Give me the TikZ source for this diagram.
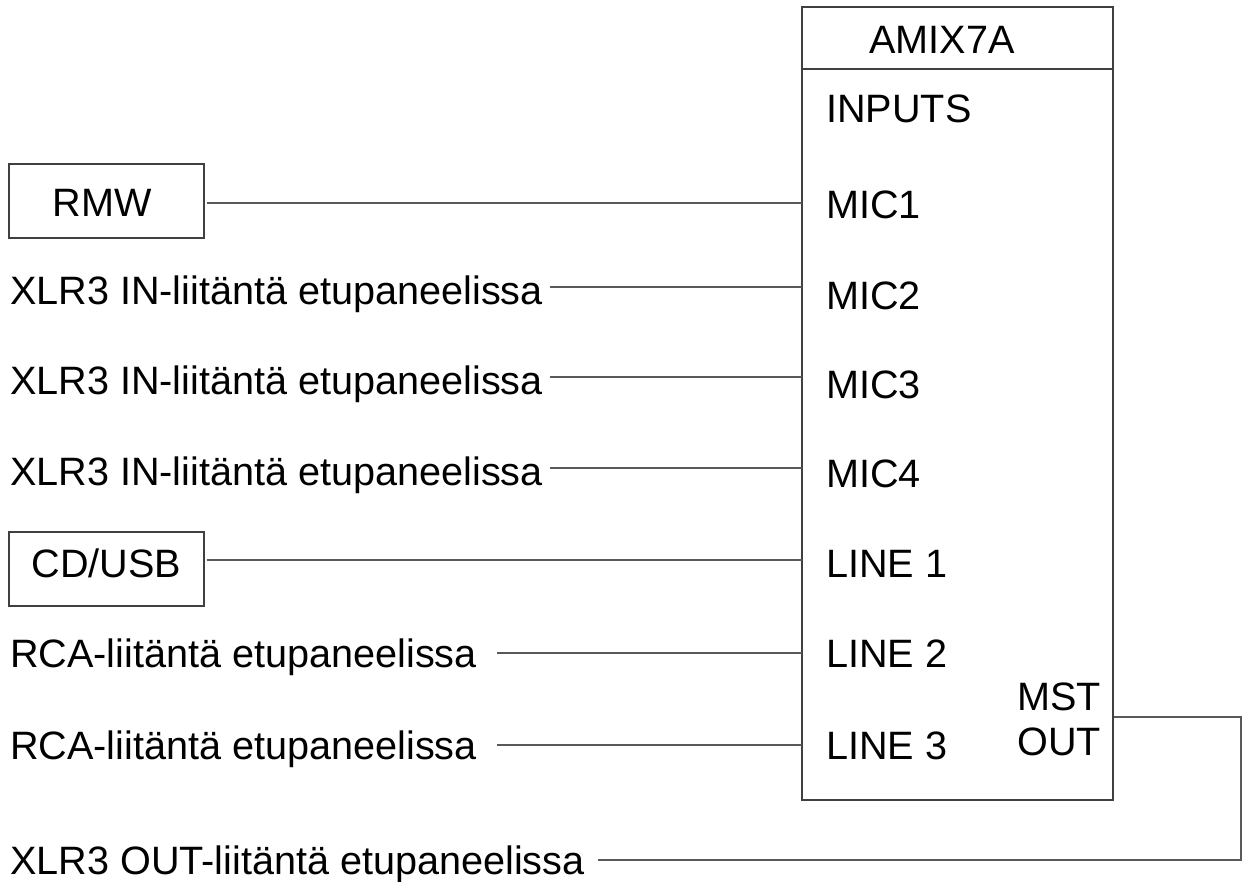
\documentclass[tikz,border=0pt]{standalone}
\usepackage{fontspec}
\setmainfont{Liberation Sans}
\begin{document}
\begin{tikzpicture}[x=1pt,y=-1pt,
  lbl/.style={inner sep=0pt,anchor=base west,font=\fontsize{39.6}{46}\selectfont},
  wire/.style={draw=black!65,line width=1.3pt},
  boxline/.style={draw=black!75,line width=1.4pt}]
\useasboundingbox (0,0) rectangle (1242,881);
% main box
\node[boxline,minimum width=311pt,minimum height=793pt,inner sep=0pt] (amix) at (957.5,403.5) {};
\draw[boxline] (802,69) -- (1113,69);
\node[lbl,anchor=base] (title) at (942,53) {AMIX7A};
\node[lbl] (inputs) at (826,122) {INPUTS};
\node[lbl] (mic1) at (826,218) {MIC1};
\node[lbl] (mic2) at (826,309) {MIC2};
\node[lbl] (mic3) at (826,398) {MIC3};
\node[lbl] (mic4) at (826,487) {MIC4};
\node[lbl] (line1) at (826,577) {LINE 1};
\node[lbl] (line2) at (826,667) {LINE 2};
\node[lbl] (line3) at (826,759) {LINE 3};
\node[lbl,anchor=base east] (mst) at (1101,710) {MST};
\node[lbl,anchor=base east] (out) at (1101,755) {OUT};
% sources
\node[boxline,minimum width=195pt,minimum height=74pt,inner sep=0pt] (rmw) at (106.5,201) {};
\node[lbl,anchor=base] (rmwt) at (102,216) {RMW};
\node[boxline,minimum width=195pt,minimum height=74pt,inner sep=0pt] (cd) at (106.5,569) {};
\node[lbl,anchor=base] (cdt) at (106.5,577) {CD/USB};
\node[lbl] (x2) at (10,304) {XLR3 IN-liitäntä etupaneelissa};
\node[lbl] (x3) at (10,394) {XLR3 IN-liitäntä etupaneelissa};
\node[lbl] (x4) at (10,485) {XLR3 IN-liitäntä etupaneelissa};
\node[lbl] (r2) at (10,667) {RCA-liitäntä etupaneelissa};
\node[lbl] (r3) at (10,759) {RCA-liitäntä etupaneelissa};
\node[lbl] (xo) at (10,874) {XLR3 OUT-liitäntä etupaneelissa};
% endpoints on main box
\coordinate (p1) at (802,203);
\coordinate (p2) at (802,287);
\coordinate (p3) at (802,377);
\coordinate (p4) at (802,468);
\coordinate (p5) at (802,560);
\coordinate (p6) at (802,653);
\coordinate (p7) at (802,745);
\coordinate (po) at (1113,717);
\coordinate (pc) at (1241,717);
\coordinate (pd) at (1241,860);
\coordinate (pe) at (598,860);
% wires
\draw[wire] (rmw.east |- p1) ++(2,0) -- (p1);
\draw[wire] (x2.east |- p2) ++(7,0) -- (p2);
\draw[wire] (x3.east |- p3) ++(7,0) -- (p3);
\draw[wire] (x4.east |- p4) ++(7,0) -- (p4);
\draw[wire] (cd.east |- p5) ++(2,0) -- (p5);
\draw[wire] (497,653) -- (p6);
\draw[wire] (497,745) -- (p7);
\draw[wire] (amix.east |- po) -- (pc) -- (pd) -- (pe);
\end{tikzpicture}
\end{document}
